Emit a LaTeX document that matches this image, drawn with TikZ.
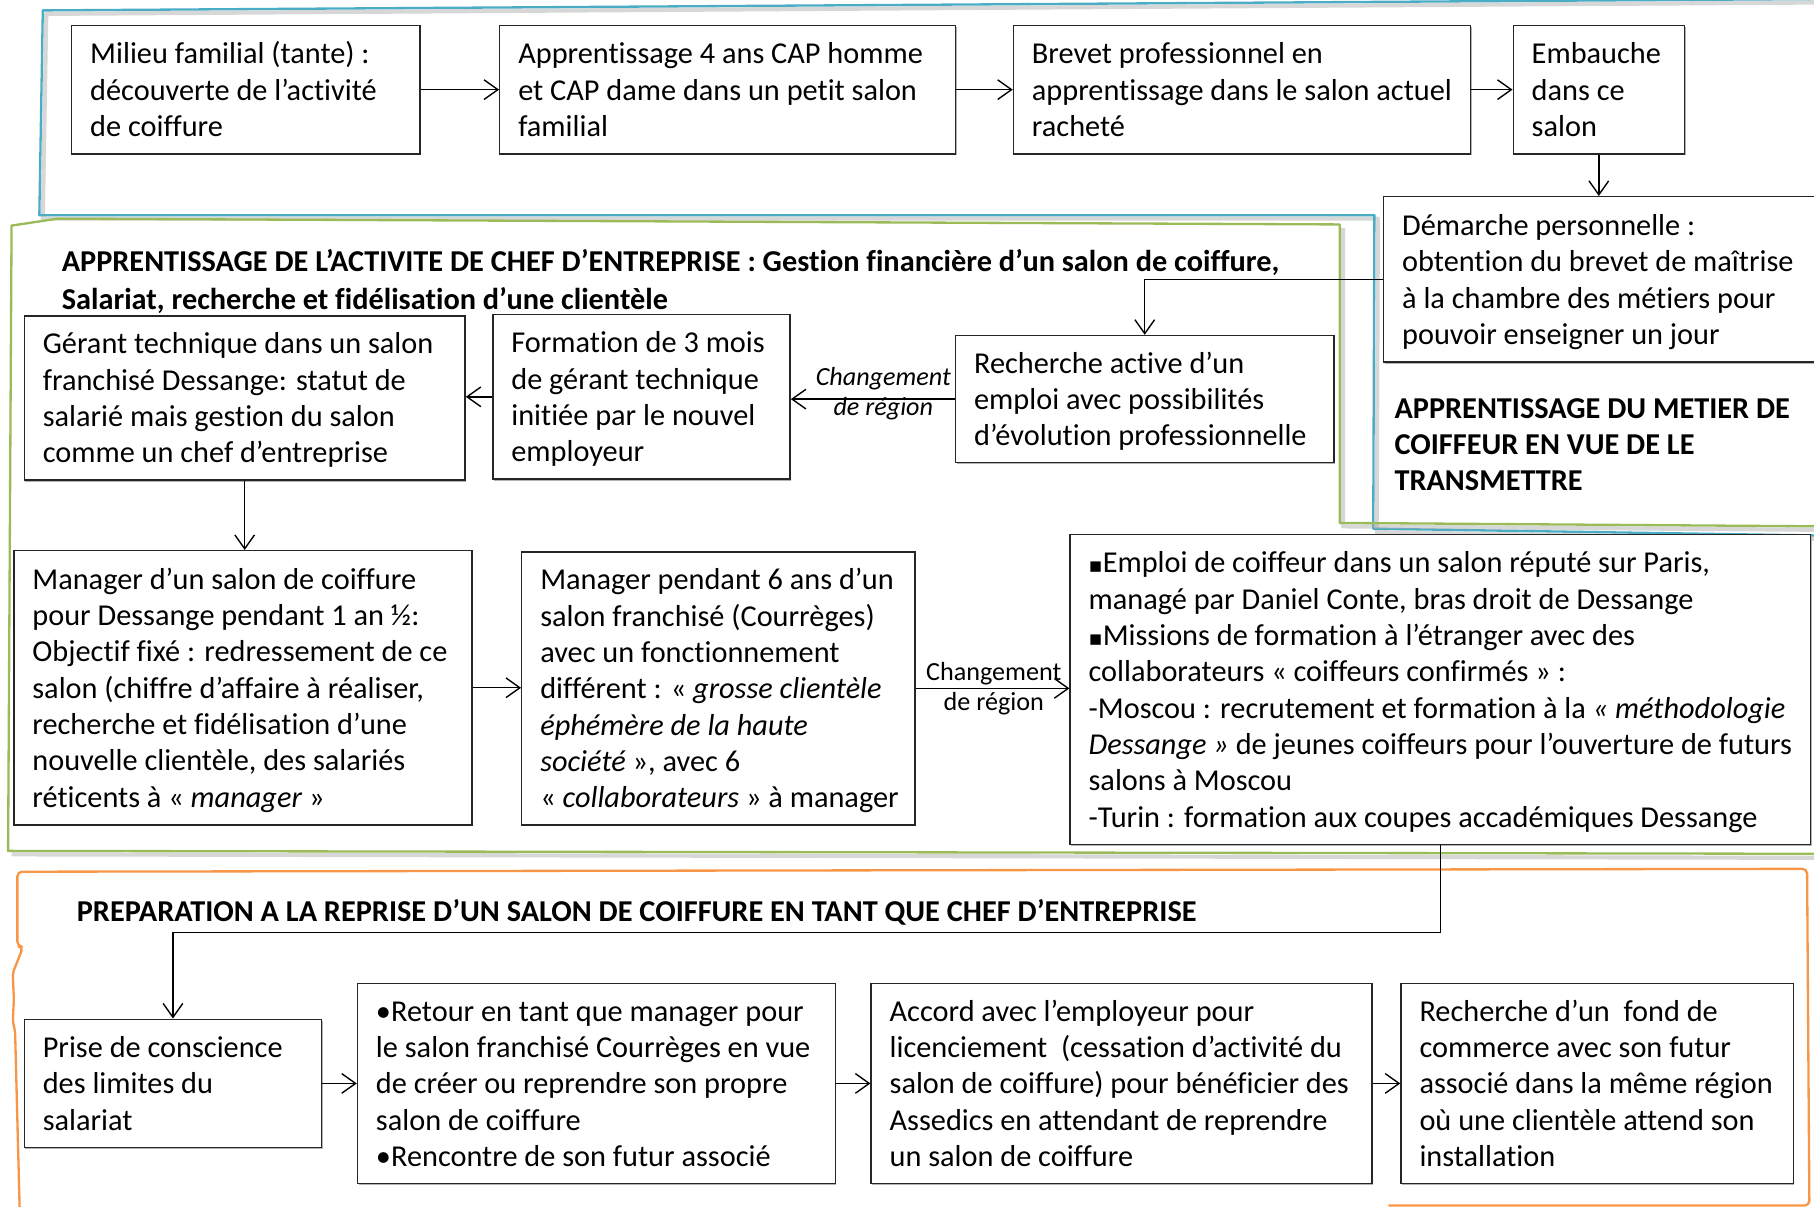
\documentclass[tikz,border=0pt]{standalone}
\usepackage{fontspec}
\setmainfont{Carlito}[Ligatures=NoCommon]
\newfontfamily\symfont{DejaVu Sans}
\usetikzlibrary{arrows.meta,calc,shadows}
\definecolor{frblue}{RGB}{75,172,198}
\definecolor{frgreen}{RGB}{155,187,89}
\definecolor{frorange}{RGB}{247,150,70}
\newcommand\bt[2]{\makebox[#1][l]{\hspace*{8pt}\raisebox{-1.4pt}[\height][\depth]{\begin{tabular}{@{}l@{}}#2\end{tabular}}}}
\newcommand\tl[1]{\begin{tabular}{@{}l@{}}#1\end{tabular}}
\newcommand\sqb{{\symfont\small ▪}}
\begin{document}
\begin{tikzpicture}[x=0.5pt,y=-0.5pt,
  box/.style={draw=black!85, line width=0.6pt, fill=white, inner sep=0pt,
    drop shadow={shadow xshift=0.5pt, shadow yshift=-0.7pt, fill=black!30, opacity=1},
    font=\fontsize{13.1}{15.7}\selectfont},
  arr/.style={line width=0.6pt, draw=black, -{Straight Barb[length=6pt,width=8.5pt]}},
  ttl/.style={inner sep=0pt, anchor=west, font=\fontsize{13.1}{16.5}\selectfont\bfseries},
  lab/.style={inner sep=0pt, align=center, font=\fontsize{11.3}{13}\selectfont},
  frame/.style={line width=1pt, line join=round},
  fshadow/.style={line width=1.8pt, draw=black!35, opacity=0.45, line join=round}]
\useasboundingbox (0,0) rectangle (1568,1043);
\clip (0,0) rectangle (1568,1043);

% ---- frames ----
\draw[fshadow] (1600,2) -- (40,12) -- (37,189) -- (1191,189) -- (1190,460) -- (1580,466);
\draw[frame, frblue] (1600,-1) -- (37,9) -- (34,186) -- (1188,186) -- (1187,457) -- (1580,463);
\draw[fshadow] (1580,458) -- (1161,455) -- (1161,197);
\draw[fshadow] (10,738.5) -- (1580,741.5);
\draw[frame, frgreen] (1580,455) -- (1158,452) -- (1158,194) -- (50,189) -- (10,195) -- (7,735.5) -- (1580,738);
\draw[frame, frorange, rounded corners=2pt] (1200,1042) -- (1564,1042) -- (1562,751) -- (15,753.5) -- (15,818) -- (20,818.5) -- (11,841) -- (12,864) -- (11,884) -- (13,890) -- (17,1045);

% ---- titles ----
\node[ttl] (t1) at (53,244.5) {\tl{APPRENTISSAGE DE L’ACTIVITE DE CHEF D’ENTREPRISE : Gestion financière d’un salon de coiffure,\\Salariat, recherche et fidélisation d’une clientèle}};
\node[ttl, font=\fontsize{13.1}{15.6}\selectfont\bfseries] (t2) at (1205,386.5) {\tl{APPRENTISSAGE DU METIER DE\\COIFFEUR EN VUE DE LE\\TRANSMETTRE}};
\node[ttl] (t3) at (66,789) {PREPARATION A LA REPRISE D’UN SALON DE COIFFURE EN TANT QUE CHEF D’ENTREPRISE};

% ---- boxes ----
\node[box, minimum height=55.5pt] (b1) at (212.5,77.5) {\bt{150.5pt}{Milieu familial (tante) :\\découverte de l’activité\\de coiffure}};
\node[box, minimum height=55.5pt] (b2) at (629,77.5) {\bt{197pt}{Apprentissage 4 ans CAP homme\\et CAP dame dans un petit salon\\familial}};
\node[box, minimum height=55.5pt] (b3) at (1073.5,77.5) {\bt{197.5pt}{Brevet professionnel en\\apprentissage dans le salon actuel\\racheté}};
\node[box, minimum height=55.5pt] (b4) at (1382,77.5) {\bt{74pt}{Embauche\\dans ce\\salon}};
\node[box, minimum height=71.5pt] (b5) at (1388,241.5) {\bt{192pt}{Démarche personnelle :\\obtention du brevet de maîtrise\\à la chambre des métiers pour\\pouvoir enseigner un jour}};
\node[box, minimum height=55pt] (b6) at (989.5,345) {\bt{163.5pt}{Recherche active d’un\\emploi avec possibilités\\d’évolution professionnelle}};
\node[box, minimum height=71pt] (b7) at (554.5,343) {\bt{128.5pt}{Formation de 3 mois\\de gérant technique\\initiée par le nouvel\\employeur}};
\node[box, minimum height=71pt] (b8) at (211.5,344) {\bt{190.5pt}{Gérant technique dans un salon\\franchisé Dessange: statut de\\salarié mais gestion du salon\\comme un chef d’entreprise}};
\node[box, minimum height=118.5pt] (b9) at (210,594.5) {\bt{198pt}{Manager d’un salon de coiffure\\pour Dessange pendant 1 an ½:\\Objectif fixé : redressement de ce\\salon (chiffre d’affaire à réaliser,\\recherche et fidélisation d’une\\nouvelle clientèle, des salariés\\réticents à « \textit{manager} »}};
\node[box, minimum height=118pt] (b10) at (621,595) {\bt{170pt}{Manager pendant 6 ans d’un\\salon franchisé (Courrèges)\\avec un fonctionnement\\différent : « \textit{grosse clientèle}\\\textit{éphémère de la haute}\\\textit{société} », avec 6\\« \textit{collaborateurs} » à manager}};
\node[box, minimum height=134pt] (b11) at (1245,596) {\bt{320pt}{\sqb Emploi de coiffeur dans un salon réputé sur Paris,\\managé par Daniel Conte, bras droit de Dessange\\\sqb Missions de formation à l’étranger avec des\\collaborateurs « coiffeurs confirmés » :\\-Moscou : recrutement et formation à la \textit{« méthodologie}\\\textit{Dessange »} de jeunes coiffeurs pour l’ouverture de futurs\\salons à Moscou\\-Turin : formation aux coupes accadémiques Dessange}};
\node[box, minimum height=55.5pt] (b12) at (149.5,936.5) {\bt{128.5pt}{Prise de conscience\\des limites du\\salariat}};
\node[box, minimum height=86.5pt] (b13) at (515.5,936.5) {\bt{206.5pt}{•Retour en tant que manager pour\\le salon franchisé Courrèges en vue\\de créer ou reprendre son propre\\salon de coiffure\\•Rencontre de son futur associé}};
\node[box, minimum height=86.5pt] (b14) at (969.5,936.5) {\bt{216.5pt}{Accord avec l’employeur pour\\licenciement\space\space(cessation d’activité du\\salon de coiffure) pour bénéficier des\\Assedics en attendant de reprendre\\un salon de coiffure}};
\node[box, minimum height=86.5pt] (b15) at (1380.5,936.5) {\bt{169.5pt}{Recherche d’un\space\space fond de\\commerce avec son futur\\associé dans la même région\\où une clientèle attend son\\installation}};

% ---- labels ----
\node[lab, font=\fontsize{11.3}{13}\selectfont\itshape] (l1) at (763.5,340) {Changement\\de région};
\node[lab] (l2) at (859,595) {Changement\\de région};

% ---- connectors ----
\draw[arr] (b1.east) -- (b2.west);
\draw[arr] (b2.east) -- (b3.west);
\draw[arr] (b3.east) -- (b4.west);
\draw[arr] (b4.south) -- (b4.south |- b5.north);
\draw[arr] (b5.west) -| (b6.north);
\draw[arr] (b6.west) -- (b6.west -| b7.east);
\draw[arr] (b7.west) -- (b7.west -| b8.east);
\draw[arr] (b8.south) -- (b8.south |- b9.north);
\draw[arr] (b9.east) -- (b9.east -| b10.west);
\draw[arr] (b10.east) -- (b10.east -| b11.west);
\coordinate (k1) at (1245,806);
\draw[arr] (b11.south) -- (k1) -| (b12.north);
\draw[arr] (b12.east) -- (b13.west);
\draw[arr] (b13.east) -- (b14.west);
\draw[arr] (b14.east) -- (b15.west);
\end{tikzpicture}
\end{document}
